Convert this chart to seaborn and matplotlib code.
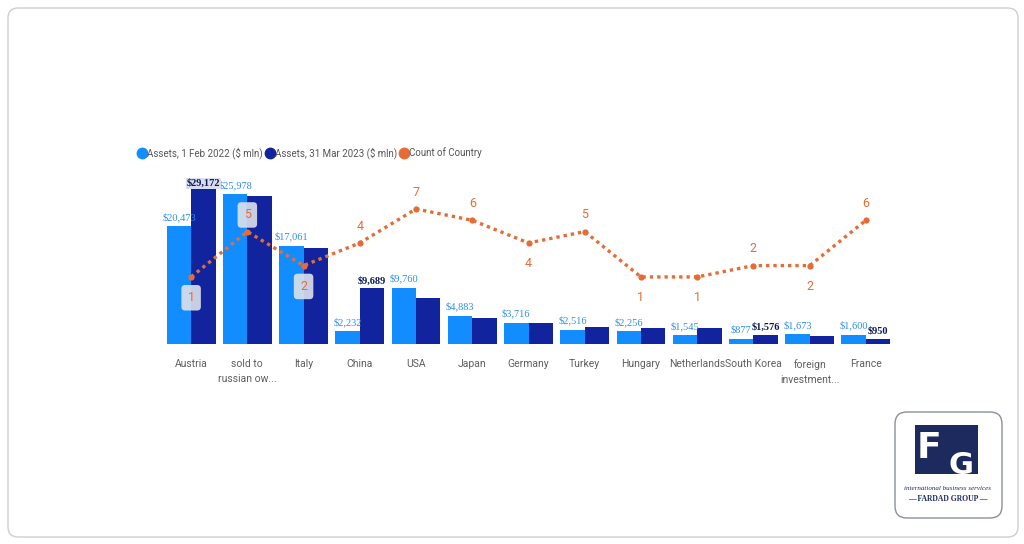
import numpy as np
import pandas as pd
import matplotlib
matplotlib.use("Agg")
import matplotlib.pyplot as plt
from matplotlib.lines import Line2D
from matplotlib.patches import FancyBboxPatch, Rectangle
from matplotlib.transforms import IdentityTransform
import seaborn as sns

# ── DATA ────────────────────────────────────────────────
countries = ["Austria", "sold to\nrussian ow...", "Italy", "China", "USA", "Japan",
             "Germany", "Turkey", "Hungary", "Netherlands", "South Korea",
             "foreign\ninvestment...", "France"]
assets_2022 = [20473, 25978, 17061, 2232, 9760, 4883, 3716, 2516, 2256, 1545, 877, 1673, 1600]
assets_2023 = [29172, 25700, 16700, 9689, 8000, 4500, 3650, 2950, 2800, 2800, 1576, 1400, 950]
country_count = [1, 5, 2, 4, 7, 6, 4, 5, 1, 1, 2, 2, 6]

series_names = ["Assets, 1 Feb 2022 ($ mln)", "Assets, 31 Mar 2023 ($ mln)", "Count of Country"]

# ── STYLE ───────────────────────────────────────────────
LIGHT = "#118DFF"
DARK = "#12239E"
ORANGE = "#E66C37"
NAVY = "#1C2A5E"
SANS = ["Roboto", "DejaVu Sans"]
SERIF = ["Liberation Serif", "DejaVu Serif"]

# which 2023 bars carry a label, where the count labels go
label_2023 = {0, 3, 10, 12}
count_below = {0, 2, 6, 8, 9, 11}
count_boxed = {0, 1, 2}

sns.set_theme(style="white")
plt.rcParams["font.family"] = SANS

df = pd.DataFrame({
    "country": countries * 2,
    "assets": assets_2022 + assets_2023,
    "series": [series_names[0]] * len(countries) + [series_names[1]] * len(countries),
})

fig = plt.figure(figsize=(10.24, 5.44), dpi=100)
fig.patch.set_facecolor("white")

# card outline
card = FancyBboxPatch((8, 7), 1010, 529, boxstyle="round,pad=0,rounding_size=10",
                      transform=IdentityTransform(), fc="white", ec="#cfcfcf", lw=1, zorder=-2)
fig.add_artist(card)

ax = fig.add_axes([163 / 1024, 200 / 544, 731 / 1024, 156 / 544])
ax.set_facecolor("none")
sns.barplot(data=df, x="country", y="assets", hue="series", palette=[LIGHT, DARK],
            width=0.87, gap=0, saturation=1, linewidth=0, ax=ax, legend=False)
ax.set_ylim(0, 27100)
ax.set_xlim(-0.5, len(countries) - 0.5)
ax.set_xlabel("")
ax.set_ylabel("")
ax.set_yticks([])
ax.set_xticks(range(len(countries)))
ax.set_xticklabels(countries, fontsize=7.5, color="#605E5C", linespacing=1.55)
ax.tick_params(axis="x", length=0, pad=11)
sns.despine(ax=ax, left=True, bottom=True)

top = ax.get_ylim()[1]
for i, bar in enumerate(ax.containers[0]):
    ax.annotate(f"${assets_2022[i]:,}", (bar.get_x() + bar.get_width() / 2, bar.get_height()),
                xytext=(0, 3), textcoords="offset points", ha="center", va="bottom",
                fontsize=7.5, color="#2E8EF0", family=SERIF)
for i, bar in enumerate(ax.containers[1]):
    if i not in label_2023:
        continue
    h = min(bar.get_height(), top)
    box = dict(boxstyle="square,pad=0.1", fc="#D9DEEC", ec="none") if h >= top else None
    ax.annotate(f"${assets_2023[i]:,}", (bar.get_x() + bar.get_width() / 2, h),
                xytext=(0, 2 if box is None else 0), textcoords="offset points",
                ha="center", va="bottom", fontsize=7.5, color="#0F1A5C",
                fontweight="bold", family=SERIF, bbox=box)

# count of country on secondary axis
ax2 = ax.twinx()
x_pos = np.arange(len(countries))
sns.lineplot(x=x_pos, y=country_count, ax=ax2, color=ORANGE, linestyle=(0, (1, 1.2)),
             linewidth=2.4, marker="o", markersize=4.5, markeredgewidth=0)
ax2.set_ylim(-4.92, 8.85)
ax2.set_yticks([])
ax2.set_ylabel("")
for s in ax2.spines.values():
    s.set_visible(False)

for i, c in enumerate(country_count):
    dy = -15 if i in count_below else 12
    box = dict(boxstyle="round,pad=0.5,rounding_size=0.3", fc="#DDE1EC", ec="none",
               alpha=0.9) if i in count_boxed else None
    ax2.annotate(str(c), (x_pos[i], c), xytext=(0, dy), textcoords="offset points",
                 ha="center", va="center", fontsize=9, color=ORANGE, bbox=box)

# legend
handles = [Line2D([], [], marker="o", ls="", color=col, markersize=7.5)
           for col in [LIGHT, DARK, ORANGE]]
fig.legend(handles, series_names, loc="center left", bbox_to_anchor=(134 / 1024, 1 - 153 / 544),
           ncol=3, frameon=False, handletextpad=0.15, columnspacing=0.3, handlelength=0.8,
           fontsize=7, labelcolor="#555555", borderaxespad=0)

# logo, bottom right
logo = FancyBboxPatch((895, 26), 107, 106, boxstyle="round,pad=0,rounding_size=12",
                      transform=IdentityTransform(), fc="white", ec="#8A8F9A", lw=1, zorder=1)
fig.add_artist(logo)
fig.add_artist(Rectangle((915, 70), 63, 49, transform=IdentityTransform(), fc=NAVY,
                         ec="none", zorder=2))
fig.text(929 / 1024, 96 / 544, "F", color="white", fontsize=26, fontweight="bold",
         ha="center", va="center", family="DejaVu Sans", zorder=3)
fig.text(961 / 1024, 78 / 544, "G", color="white", fontsize=22, fontweight="bold",
         ha="center", va="center", family="DejaVu Sans", zorder=3)
fig.text(948 / 1024, 55 / 544, "international business services", color=NAVY, fontsize=5,
         style="italic", ha="center", va="center", family=SERIF, zorder=3)
fig.text(948 / 1024, 45 / 544, "— FARDAD GROUP —", color=NAVY, fontsize=5.5,
         fontweight="bold", ha="center", va="center", family=SERIF, zorder=3)

fig.savefig("out.png", dpi=100, facecolor="white")
